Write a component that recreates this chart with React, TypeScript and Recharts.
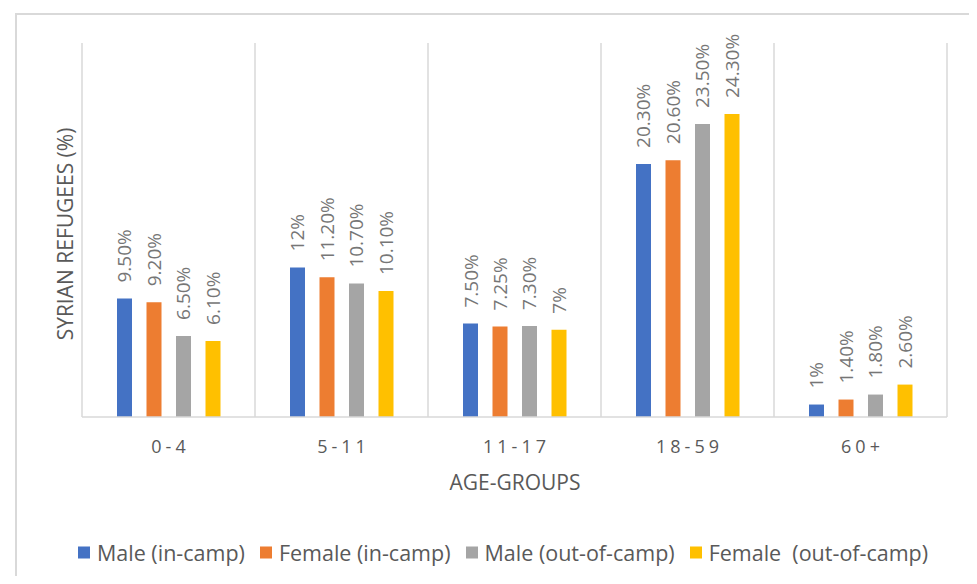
import { BarChart, Bar, XAxis, YAxis, CartesianGrid, LabelList } from "recharts";

const ageGroups = ["0-4", "5-11", "11-17", "18-59", "60+"];
const maleInCamp = [9.5, 12, 7.5, 20.3, 1];
const femaleInCamp = [9.2, 11.2, 7.25, 20.6, 1.4];
const maleOutCamp = [6.5, 10.7, 7.3, 23.5, 1.8];
const femaleOutCamp = [6.1, 10.1, 7, 24.3, 2.6];

const SERIES = [
  { key: "maleIn", name: "Male (in-camp)", color: "#4472C4", values: maleInCamp },
  { key: "femaleIn", name: "Female (in-camp)", color: "#ED7D31", values: femaleInCamp },
  { key: "maleOut", name: "Male (out-of-camp)", color: "#A5A5A5", values: maleOutCamp },
  { key: "femaleOut", name: "Female  (out-of-camp)", color: "#FFC000", values: femaleOutCamp },
];

const data = ageGroups.map((group, i) => {
  const row: Record<string, string | number> = { group };
  SERIES.forEach((s) => (row[s.key] = s.values[i]));
  return row;
});

const FONT = "'Open Sans', 'DejaVu Sans', sans-serif";
const GRID = "#d9d9d9";

const fmt = (v: number) => (Number.isInteger(v) ? `${v}%` : `${v.toFixed(2)}%`);

function ValueLabel(props: any) {
  const { x, y, width, value } = props;
  const cx = x + width / 2;
  const cy = y - 16;
  return (
    <text
      x={cx}
      y={cy}
      transform={`rotate(-90, ${cx}, ${cy})`}
      textAnchor="start"
      dominantBaseline="central"
      fontFamily={FONT}
      fontSize={19}
      fill="#767676"
    >
      {fmt(Number(value))}
    </text>
  );
}

function AgeTick(props: any) {
  const { x, y, payload } = props;
  return (
    <text
      x={x + 2}
      y={y + 21}
      textAnchor="middle"
      dominantBaseline="central"
      fontFamily={FONT}
      fontSize={18}
      letterSpacing={4}
      fill="#595959"
    >
      {payload.value}
    </text>
  );
}

export default function App() {
  return (
    <div style={{ position: "relative", width: 969, height: 568, overflow: "hidden", fontFamily: FONT }}>
      <div
        style={{
          position: "absolute",
          left: 7,
          top: 5,
          width: 960,
          height: 600,
          border: `2px solid ${GRID}`,
          boxSizing: "border-box",
        }}
      />
      <div style={{ position: "absolute", left: 0, top: 0 }}>
        <BarChart
          width={961}
          height={568}
          data={data}
          margin={{ top: 35, right: 22, left: 74, bottom: 129 }}
          barSize={15}
          barGap={14.5}
        >
          <CartesianGrid
            horizontal={false}
            stroke={GRID}
            strokeWidth={1.5}
            verticalCoordinatesGenerator={({ offset }: any) =>
              ageGroups.concat("").map((_, i) => offset.left + (i * offset.width) / ageGroups.length)
            }
          />
          <XAxis
            dataKey="group"
            height={30}
            axisLine={{ stroke: GRID, strokeWidth: 1.5 }}
            tickLine={false}
            tick={<AgeTick />}
            interval={0}
          />
          <YAxis hide domain={[0, 30]} />
          {SERIES.map((s) => (
            <Bar key={s.key} dataKey={s.key} name={s.name} fill={s.color} isAnimationActive={false}>
              <LabelList dataKey={s.key} content={<ValueLabel />} />
            </Bar>
          ))}
        </BarChart>
      </div>
      <div
        style={{
          position: "absolute",
          left: 57,
          top: 226,
          transform: "translate(-50%, -50%) rotate(-90deg)",
          whiteSpace: "nowrap",
          fontSize: 21,
          color: "#595959",
        }}
      >
        SYRIAN REFUGEES (%)
      </div>
      <div
        style={{
          position: "absolute",
          left: 507,
          top: 474,
          transform: "translate(-50%, -50%)",
          whiteSpace: "nowrap",
          fontSize: 21,
          color: "#595959",
        }}
      >
        AGE-GROUPS
      </div>
      <div
        style={{
          position: "absolute",
          left: 70,
          top: 544,
          transform: "translateY(-50%)",
          display: "flex",
          alignItems: "center",
          whiteSpace: "pre",
          fontSize: 21.5,
          color: "#595959",
        }}
      >
        {SERIES.map((s) => (
          <div key={s.key} style={{ display: "flex", alignItems: "center", marginRight: 15 }}>
            <span style={{ width: 12, height: 12, background: s.color, marginRight: 7 }} />
            <span>{s.name}</span>
          </div>
        ))}
      </div>
    </div>
  );
}
